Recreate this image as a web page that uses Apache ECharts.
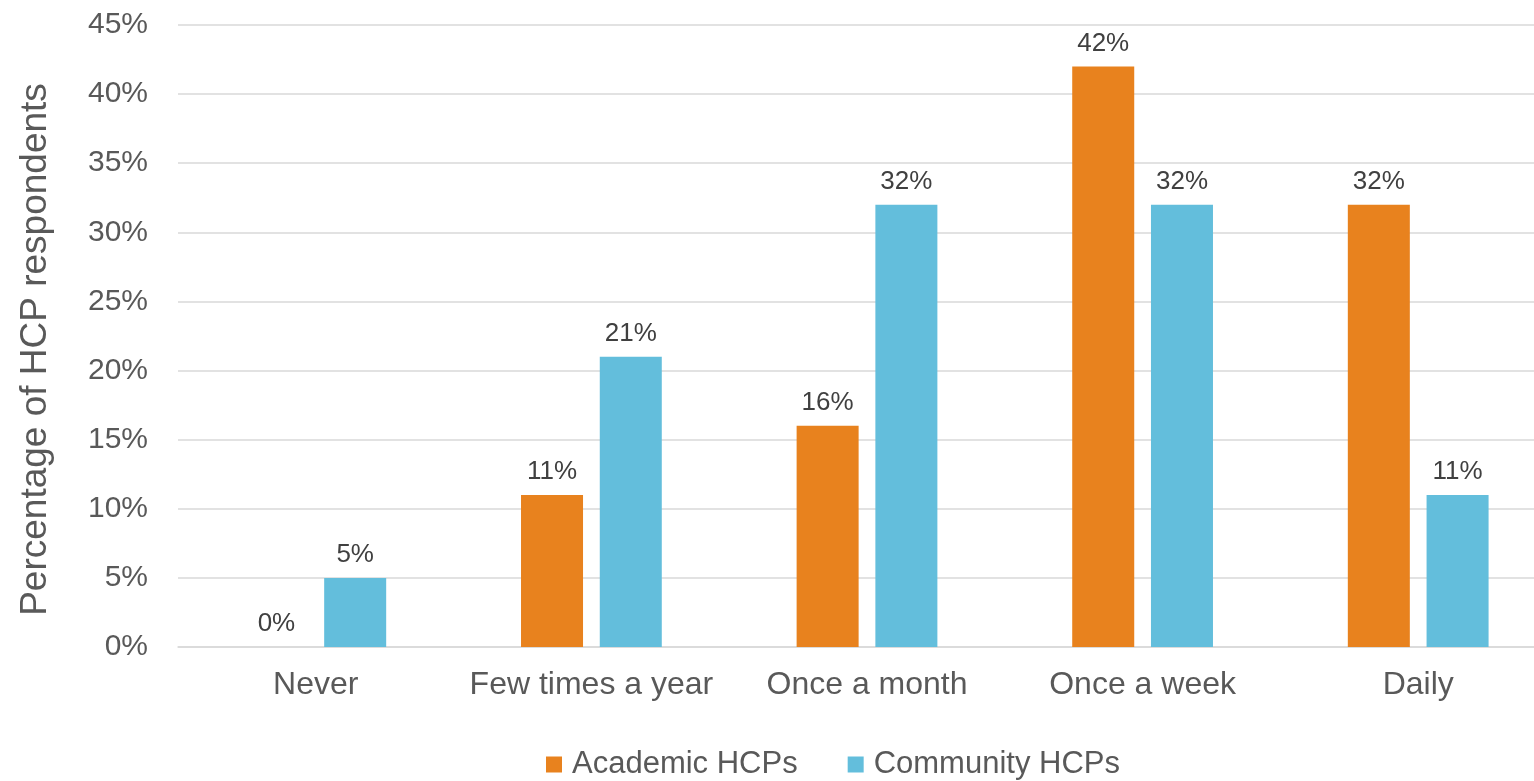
<!DOCTYPE html>
<html>
<head>
<meta charset="utf-8">
<script src="https://cdn.jsdelivr.net/npm/echarts@6/dist/echarts.min.js"></script>
<style>
  html, body { margin: 0; padding: 0; background: #fff; }
  #chart { width: 1534px; height: 781px; }
</style>
</head>
<body>
<div id="chart"></div>
<script>
var categories = ["Never", "Few times a year", "Once a month", "Once a week", "Daily"];
var academic = [0, 11, 16, 42, 32];
var community = [5, 21, 32, 32, 11];
var seriesNames = ["Academic HCPs", "Community HCPs"];
var yTicks = [0, 5, 10, 15, 20, 25, 30, 35, 40, 45];

var font = "Liberation Sans, Arial, sans-serif";
var myChart = echarts.init(document.getElementById("chart"));

var labelStyle = {
  show: true,
  position: "top",
  distance: 10,
  color: "#404040",
  fontSize: 26,
  fontFamily: font,
  formatter: function (p) { return p.value + "%"; },
};

var option = {
  backgroundColor: "#ffffff",
  animation: false,
  grid: {
    left: 178,
    width: 1378, // plot runs past the right edge in the original
    top: 25,
    bottom: 134,
    outerBoundsMode: "none",
    containLabel: false,
  },
  legend: {
    left: 541,
    top: 744,
    itemWidth: 16,
    itemHeight: 16,
    itemGap: 50,
    icon: "rect",
    textStyle: { color: "#595959", fontSize: 31, fontFamily: font, padding: [0, 0, 0, 5] },
    data: seriesNames,
  },
  xAxis: {
    type: "category",
    data: categories,
    axisTick: { show: false },
    axisLine: { lineStyle: { color: "#d9d9d9", width: 1.5 } },
    axisLabel: { color: "#595959", fontSize: 32, fontFamily: font, margin: 22, interval: 0 },
  },
  yAxis: {
    type: "value",
    min: yTicks[0],
    max: yTicks[yTicks.length - 1],
    interval: 5,
    name: "Percentage of HCP respondents",
    nameLocation: "middle",
    nameGap: 124,
    nameTextStyle: { color: "#595959", fontSize: 37, fontFamily: font, padding: [0, 27, 0, 0] },
    axisLine: { show: false },
    axisTick: { show: false },
    splitLine: { lineStyle: { color: "#d9d9d9", width: 1.5 } },
    axisLabel: {
      color: "#595959",
      fontSize: 30,
      fontFamily: font,
      margin: 30,
      formatter: "{value}%",
    },
  },
  series: [
    {
      name: seriesNames[0],
      type: "bar",
      data: academic,
      barWidth: "22.5%",
      barGap: "27%",
      itemStyle: { color: "#E8821E" },
      label: labelStyle,
    },
    {
      name: seriesNames[1],
      type: "bar",
      data: community,
      barWidth: "22.5%",
      barGap: "27%",
      itemStyle: { color: "#63BEDC" },
      label: labelStyle,
    },
  ],
};
myChart.setOption(option);
</script>
</body>
</html>
